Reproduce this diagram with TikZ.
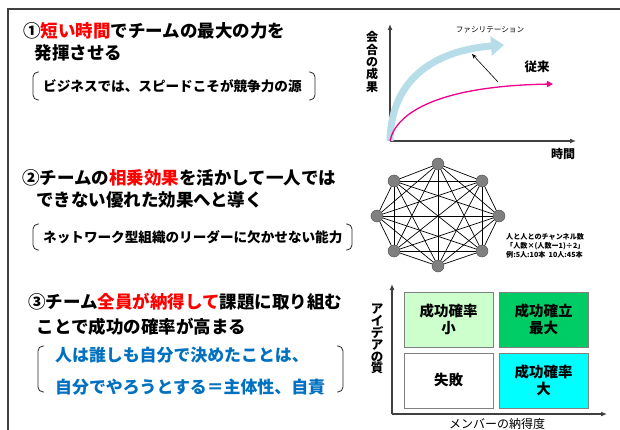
\documentclass[tikz,border=0pt]{standalone}
\usepackage{fontspec}
\setmainfont{Noto Sans CJK JP}
\usepackage{xcolor}
\usepackage{tikz}
\usetikzlibrary{arrows.meta}

\definecolor{fgblue}{HTML}{0070C0}
\definecolor{curveblue}{HTML}{B7DDE8}
\definecolor{cellpale}{HTML}{CCFFCC}
\definecolor{cellgreen}{HTML}{00CC66}
\definecolor{cellcyan}{HTML}{00FFFF}

\begin{document}
\begin{tikzpicture}[
    x=1pt, y=-1pt,
    heading/.style={anchor=west, inner sep=0pt, align=left, font=\fontsize{17.5}{21.5}\selectfont\bfseries},
    remark/.style={anchor=west, inner sep=0pt, font=\fontsize{13.6}{16}\selectfont\bfseries},
    paren/.style={draw=black!85, line width=0.8pt, rounded corners=5pt},
    axis/.style={draw=black!75, line width=1.3pt, -{Latex[length=6pt,width=5pt]}},
    member/.style={circle, fill=gray, draw=black!70, minimum size=12pt, inner sep=0pt},
    link/.style={draw=black, line width=0.7pt},
    cell/.style={draw=gray, line width=0.8pt, minimum width=89pt, minimum height=55pt, align=center, font=\fontsize{14.5}{17}\selectfont\bfseries},
    vlabel/.style={inner sep=0pt, align=center, font=\fontsize{12}{12.4}\selectfont\bfseries}
]
\useasboundingbox (0,0) rectangle (620,430);

% Frame
\draw[black!75, line width=1.2pt] (8,430) -- (8,9) -- (620,9);

% Point 1
\node[heading] (head1) at (23,42) {①\textcolor{red}{短い時間}でチームの最大の力を\\\hspace*{0.65em}発揮させる};
\node[remark] (note1) at (43,86) {ビジネスでは、スピードこそが競争力の源};
\draw[paren] (39,72) -- (33,72) -- (33,100) -- (39,100);
\draw[paren] (309,72) -- (315,72) -- (315,100) -- (309,100);

% Point 2
\node[heading] (head2) at (22,189) {②チームの\textcolor{red}{相乗効果}を活かして一人では\\\hspace*{0.8em}できない優れた効果へと導く};
\node[remark] (note2) at (43,237) {ネットワーク型組織のリーダーに欠かせない能力};
\draw[paren] (39,224) -- (33,224) -- (33,250) -- (39,250);
\draw[paren] (346,224) -- (352,224) -- (352,250) -- (346,250);

% Point 3
\node[heading] (head3) at (28,314) {③チーム\textcolor{red}{全員が納得して}課題に取り組む\\[3.5pt]\hspace*{0.5em}ことで成功の確率が高まる};
\node[remark, text=fgblue, font=\fontsize{16.9}{20}\selectfont\bfseries] (note3a) at (55,355) {人は誰しも自分で決めたことは、};
\node[remark, text=fgblue, font=\fontsize{16.9}{20}\selectfont\bfseries] (note3b) at (55,387) {自分でやろうとする＝主体性、自責};
\draw[paren] (44,346) -- (38,346) -- (38,392) -- (44,392);
\draw[paren] (337,346) -- (343,346) -- (343,392) -- (337,392);

% Growth chart
\coordinate (origin) at (390,141);
\coordinate (ytop) at (390,24);
\coordinate (xend) at (576,141);
\draw[axis] (origin) -- (ytop);
\draw[axis] (origin) -- (xend);
\node[vlabel] (result) at (372,62) {会\\合\\の\\成\\果};
\node[inner sep=0pt, font=\fontsize{12}{14}\selectfont\bfseries] (time) at (563,154) {時間};
\coordinate (facilend) at (504,45);
\coordinate (pastend) at (553,84);
\draw[curveblue, line width=7pt, -{Triangle[length=13pt,width=19pt]}]
    (origin) .. controls (391,75) and (440,50) .. (facilend);
\draw[magenta, line width=1.3pt, -{Triangle[length=6pt,width=6pt]}]
    (origin) .. controls (396,112) and (440,86) .. (pastend);
\node[inner sep=0pt, font=\fontsize{7.6}{9}\selectfont] (facil) at (490,30) {ファシリテーション};
\node[inner sep=0pt, font=\fontsize{12.5}{14}\selectfont\bfseries] (past) at (537,67) {従来};
\coordinate (tailpt) at (498,82);
\coordinate (headpt) at (472,54);
\draw[line width=0.6pt, -{Stealth[length=5pt,width=4pt]}] (tailpt) -- (headpt);

% Network
\node[member] (m1) at (438,164) {};
\node[member] (m2) at (482,181) {};
\node[member] (m3) at (499,216) {};
\node[member] (m4) at (482,251) {};
\node[member] (m5) at (438,266) {};
\node[member] (m6) at (394,251) {};
\node[member] (m7) at (377,216) {};
\node[member] (m8) at (394,181) {};
\foreach \a in {1,...,7} {
    \pgfmathtruncatemacro{\first}{\a+1}
    \foreach \b in {\first,...,8} {
        \draw[link] (m\a) -- (m\b);
    }
}
\node[anchor=west, inner sep=0pt, align=left, font=\fontsize{7.1}{9.3}\selectfont\bfseries] (channels) at (506,246)
    {人と人とのチャンネル数\\「人数×(人数ー1)÷2」\\例:5人:10本\ \ 10人:45本};

% Matrix
\coordinate (morigin) at (392,414);
\coordinate (mtop) at (392,284);
\coordinate (mend) at (607,414);
\draw[axis] (morigin) -- (mtop);
\draw[axis] (morigin) -- (mend);
\node[cell, fill=cellpale] (lowbuy) at (448.5,319.5) {成功確率\\小};
\node[cell, fill=cellgreen] (best) at (543.5,319.5) {成功確立\\最大};
\node[cell, fill=white] (fail) at (448.5,380.5) {失敗};
\node[cell, fill=cellcyan] (highbuy) at (543.5,380.5) {成功確率\\大};
\node[vlabel, font=\fontsize{12.5}{11.6}\selectfont\bfseries] (quality) at (377,339) {ア\\イ\\デ\\ア\\の\\質};
\node[inner sep=0pt, font=\fontsize{12}{14}\selectfont] (buyin) at (497,424) {メンバーの納得度};

\end{tikzpicture}
\end{document}
